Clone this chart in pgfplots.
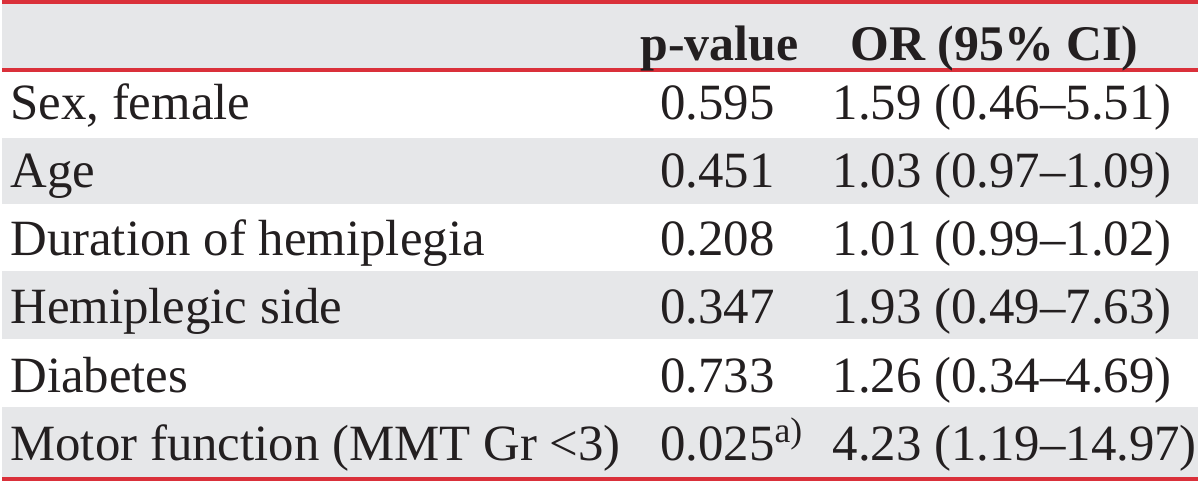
\documentclass[border=0pt]{standalone}
\usepackage{fontspec}
\setmainfont{Liberation Serif}
\usepackage{pgfplots}
\usepackage{pgfplotstable}
\pgfplotsset{compat=1.18}
\definecolor{redline}{RGB}{218,48,58}
\definecolor{rowgray}{RGB}{230,231,233}
\definecolor{txt}{RGB}{35,31,32}

\pgfplotstableread[col sep=semicolon]{
y;name;p;or
120;Sex, female;0.595;1.59 (0.46–5.51)
188.5;Age;0.451;1.03 (0.97–1.09)
256.8;Duration of hemiplegia;0.208;1.01 (0.99–1.02)
325;Hemiplegic side;0.347;1.93 (0.49–7.63)
393.4;Diabetes;0.733;1.26 (0.34–4.69)
461.7;Motor function (MMT Gr <3);0.025\textsuperscript{a)};4.23 (1.19–14.97)
}\rowsdata

\pgfplotstableread[col sep=semicolon]{
x;y;head
720;61;p-value
996;61;OR (95\% CI)
}\headdata

\begin{document}
\begin{tikzpicture}
\begin{axis}[
  width=600bp, height=243bp, scale only axis,
  xmin=0, xmax=1200, ymin=0, ymax=486, y dir=reverse,
  axis lines=none, clip=false,
  every node near coord/.append style={inner sep=0pt, text=txt, font=\fontsize{25.5bp}{30bp}\selectfont},
]
% row shading
\fill[rowgray] (axis cs:0,4) rectangle (axis cs:1200,68);
\fill[rowgray] (axis cs:0,138) rectangle (axis cs:1200,205);
\fill[rowgray] (axis cs:0,272) rectangle (axis cs:1200,340);
\fill[rowgray] (axis cs:0,408) rectangle (axis cs:1200,480);
% red rules
\draw[redline, line width=2bp] (axis cs:0,2) -- (axis cs:1200,2);
\draw[redline, line width=2bp] (axis cs:0,70) -- (axis cs:1200,70);
\draw[redline, line width=2bp] (axis cs:0,481) -- (axis cs:1200,481);
% header
\addplot[draw=none, mark=none, nodes near coords, point meta=explicit symbolic,
  every node near coord/.append style={anchor=base, font=\fontsize{25bp}{30bp}\selectfont\bfseries}]
  table[x=x, y=y, meta=head] {\headdata};
% columns
\addplot[draw=none, mark=none, nodes near coords, point meta=explicit symbolic,
  every node near coord/.append style={anchor=base west}]
  table[x expr=8, y=y, meta=name] {\rowsdata};
\addplot[draw=none, mark=none, nodes near coords, point meta=explicit symbolic,
  every node near coord/.append style={anchor=base west}]
  table[x expr=660, y=y, meta=p] {\rowsdata};
\addplot[draw=none, mark=none, nodes near coords, point meta=explicit symbolic,
  every node near coord/.append style={anchor=base west}]
  table[x expr=833, y=y, meta=or] {\rowsdata};
\end{axis}
\end{tikzpicture}
\end{document}
